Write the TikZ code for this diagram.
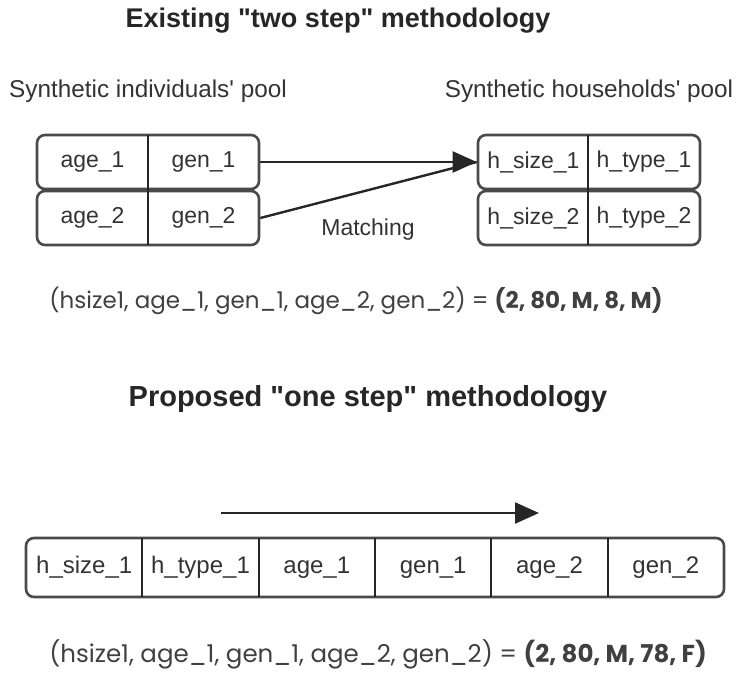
\documentclass[tikz,border=0pt]{standalone}
\usepackage{fontspec}
\setmainfont{Liberation Sans}
\newfontfamily\formfont{Poppins}
\usetikzlibrary{arrows.meta}
\definecolor{ink}{HTML}{333333}
\definecolor{boxline}{HTML}{4A4A4A}
\tikzset{
  rowbox/.style={draw=boxline, line width=2.6pt, rounded corners=8pt, inner sep=0pt},
  cell/.style={inner sep=0pt, text=ink, font=\fontsize{23}{26}\selectfont},
  bigcell/.style={inner sep=0pt, text=ink, font=\fontsize{24}{27}\selectfont},
  divider/.style={draw=black!85, line width=1.8pt},
  lbl/.style={inner sep=0pt, text=ink, font=\fontsize{24.3}{27}\selectfont},
  mlbl/.style={inner sep=0pt, text=ink, font=\fontsize{23}{26}\selectfont},
  ttl/.style={inner sep=0pt, text=black!85, font=\bfseries},
  formula/.style={inner sep=0pt, text=black!75},
  conn/.style={draw=black!85, line width=2.4pt},
  tip/.style={-{Triangle[length=24pt,width=21pt]}}
}
\begin{document}
\begin{tikzpicture}[x=1pt,y=-1pt]
\useasboundingbox (0,0) rectangle (736,673);
% titles
\node[ttl, font=\fontsize{27}{30}\selectfont\bfseries] (t1) at (338,21) {Existing \textquotedbl two step\textquotedbl{} methodology};
\node[lbl] (l1) at (148,91) {Synthetic individuals\textquotesingle{} pool};
\node[lbl] (l2) at (589,91) {Synthetic households\textquotesingle{} pool};
% left pool
\node[rowbox, minimum width=222pt, minimum height=54pt] (r1) at (148,162) {};
\node[rowbox, minimum width=222pt, minimum height=54pt] (r2) at (148,218) {};
\node[cell] (a1) at (92.5,162) {age\_1};
\node[cell] (g1) at (203.5,162) {gen\_1};
\node[cell] (a2) at (92.5,218) {age\_2};
\node[cell] (g2) at (203.5,218) {gen\_2};
\coordinate (d1t) at (148,135);
\coordinate (d1b) at (148,245);
\draw[divider] (d1t) -- (d1b);
% right pool
\node[rowbox, minimum width=222pt, minimum height=54pt] (s1) at (589,162) {};
\node[rowbox, minimum width=222pt, minimum height=54pt] (s2) at (589,218) {};
\node[cell] (h1) at (533.5,162) {h\_size\_1};
\node[cell] (y1) at (644,162) {h\_type\_1};
\node[cell] (h2) at (533.5,218) {h\_size\_2};
\node[cell] (y2) at (644,218) {h\_type\_2};
\coordinate (d2t) at (588,135);
\coordinate (d2b) at (588,245);
\draw[divider] (d2t) -- (d2b);
% connectors
\draw[conn] (r2.east) -- (s1.west);
\draw[conn, tip] (r1.east) -- (s1.west);
\node[mlbl] (m) at (368,230) {Matching};
% formula 1
\node[formula, font=\formfont\fontsize{23}{26}\selectfont] (f1) at (356,301) {(hsize1, age\_1, gen\_1, age\_2, gen\_2) = \textbf{(2, 80, M, 8, M)}};
% second part
\node[ttl, font=\fontsize{29}{32}\selectfont\bfseries] (t2) at (368,399) {Proposed \textquotedbl one step\textquotedbl{} methodology};
\coordinate (pa) at (221,513);
\coordinate (pb) at (539,513);
\draw[conn, tip] (pa) -- (pb);
\node[rowbox, minimum width=698pt, minimum height=59pt] (bb) at (375,567.5) {};
\node[bigcell] (c1) at (84.2,567.5) {h\_size\_1};
\node[bigcell] (c2) at (200.5,567.5) {h\_type\_1};
\node[bigcell] (c3) at (316.8,567.5) {age\_1};
\node[bigcell] (c4) at (433.2,567.5) {gen\_1};
\node[bigcell] (c5) at (549.5,567.5) {age\_2};
\node[bigcell] (c6) at (665.8,567.5) {gen\_2};
\foreach \xx/\nm in {142.3/e1,258.7/e2,375/e3,491.3/e4,607.7/e5}{
  \coordinate (\nm t) at (\xx,538);
  \coordinate (\nm b) at (\xx,597);
  \draw[divider] (\nm t) -- (\nm b);
}
\node[formula, font=\formfont\fontsize{24.5}{27}\selectfont] (f2) at (378,654) {(hsize1, age\_1, gen\_1, age\_2, gen\_2) = \textbf{(2, 80, M, 78, F)}};
\end{tikzpicture}
\end{document}
